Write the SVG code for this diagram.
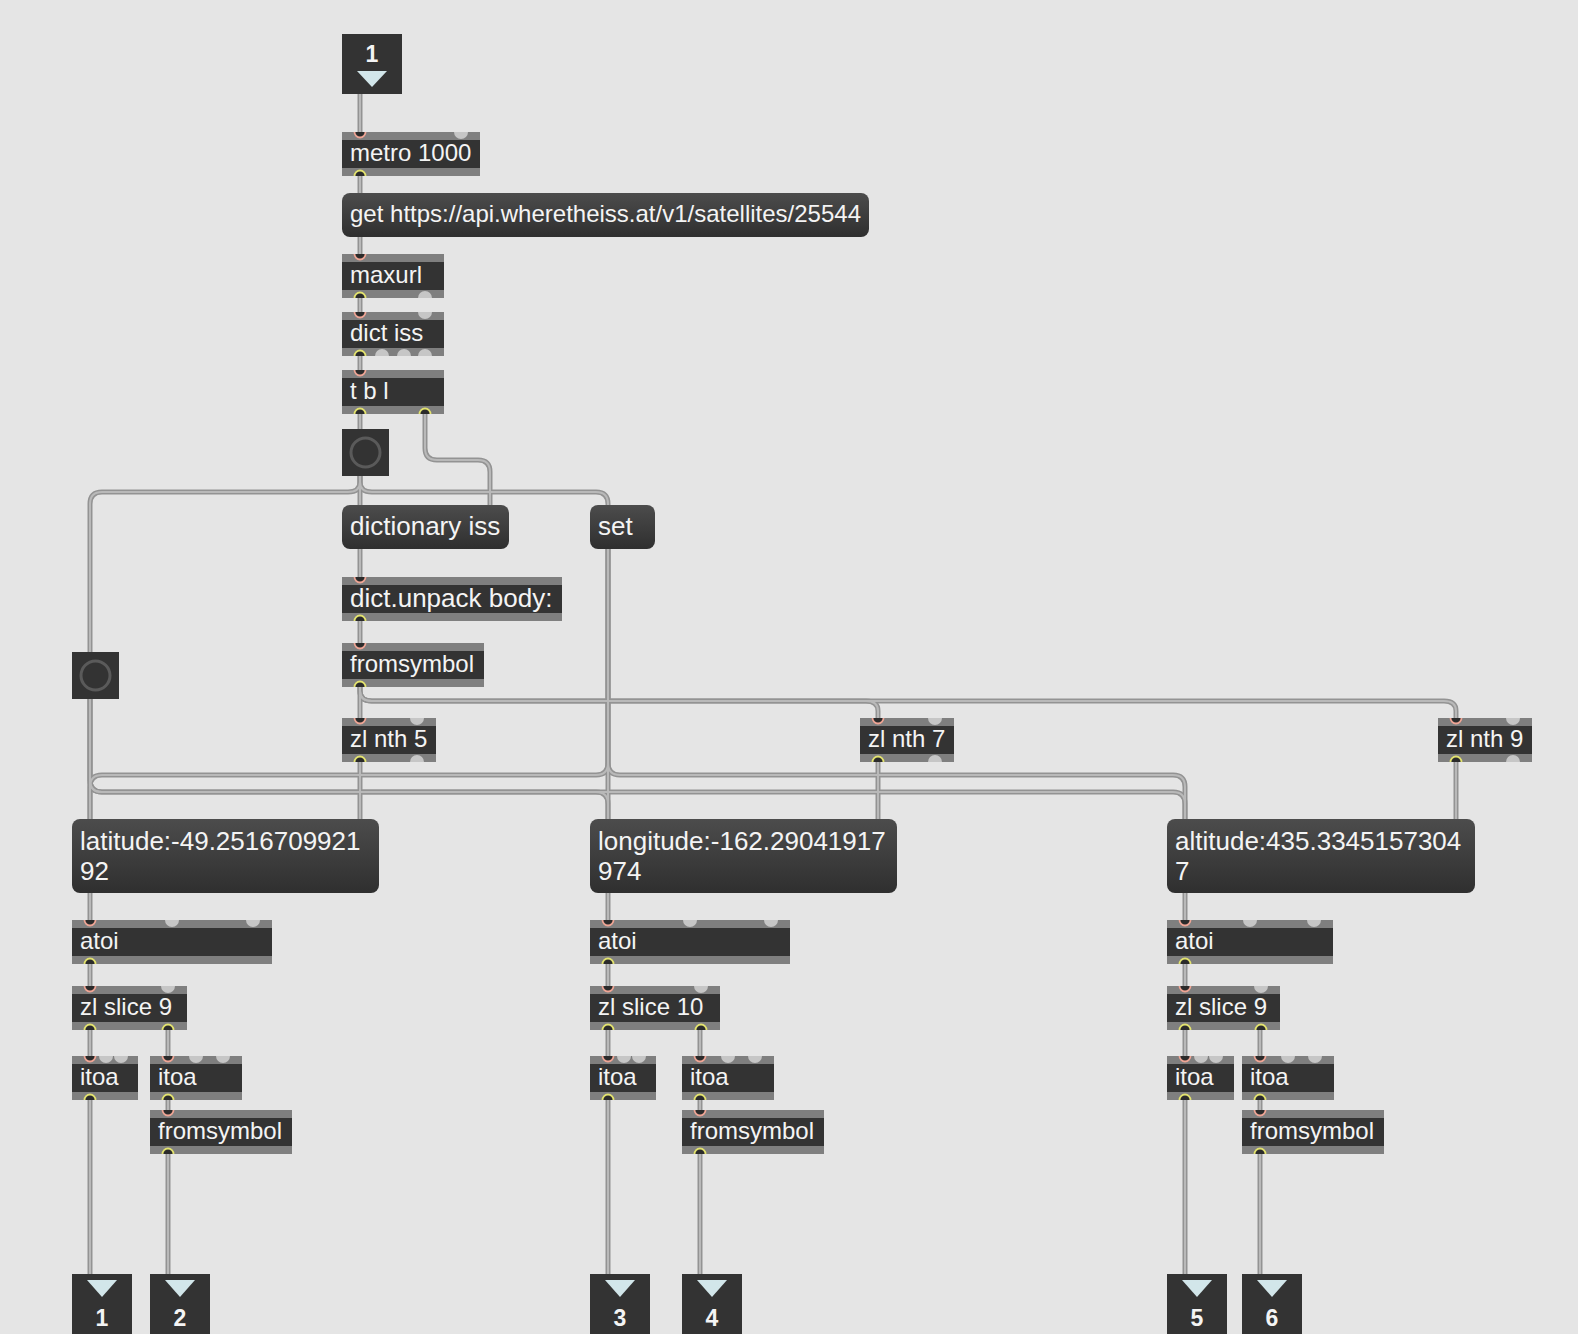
<svg xmlns="http://www.w3.org/2000/svg" width="1578" height="1334" viewBox="0 0 1578 1334">
<defs>
<style>
.t{font-family:"Liberation Sans",Arial,Helvetica,sans-serif;font-size:24px;fill:#f4f4f4}
.t26{font-size:26px}
.n{font-family:"Liberation Sans",Arial,Helvetica,sans-serif;font-weight:bold;fill:#f4f4f4;text-anchor:middle}
.ob{fill:#7f7f7f}
.od{fill:#333333}
.msg{fill:url(#mg)}
.dk{fill:#333333}
.tri{fill:#d2e6ea}
.ring{fill:none;stroke:#5a5a5a;stroke-width:3}
.c1{fill:none;stroke:#939393;stroke-width:5}
.c2{fill:none;stroke:#b9b9b9;stroke-width:2}
</style>
<linearGradient id="mg" x1="0" y1="0" x2="0" y2="1">
<stop offset="0" stop-color="#4c4c4c"/>
<stop offset="1" stop-color="#2f2f2f"/>
</linearGradient>
<path id="inC" d="M-5.5 0A5.5 5.5 0 0 0 5.5 0" fill="#2b2b2b" stroke="#efa595" stroke-width="1.8"/>
<path id="outC" d="M-5.5 0A5.5 5.5 0 0 1 5.5 0" fill="#2b2b2b" stroke="#e3e36f" stroke-width="1.8"/>
<path id="inU" d="M-7 0A7 7 0 0 0 7 0Z" fill="#c6c6c6"/>
<path id="outU" d="M-7 0A7 7 0 0 1 7 0Z" fill="#c6c6c6"/>
<g id="cords">
<path d="M360 94V132"/>
<path d="M360 176V193"/>
<path d="M360 236V254"/>
<path d="M360 298V312"/>
<path d="M360 356V370"/>
<path d="M360 414V429"/>
<path d="M425 414V448Q425 460 437 460H478Q490 460 490 472V505"/>
<path d="M360 476V505"/>
<path d="M360 476V482Q360 492 348 492H102Q90 492 90 504V652"/>
<path d="M360 476V482Q360 492 372 492H596Q608 492 608 504V505"/>
<path d="M360 549V577"/>
<path d="M360 621V643"/>
<path d="M360 687V718"/>
<path d="M360 687V691Q360 701 372 701H866Q878 701 878 711V718"/>
<path d="M360 687V691Q360 701 372 701H1444Q1456 701 1456 711V718"/>
<path d="M360 762V819"/>
<path d="M878 762V819"/>
<path d="M1456 762V819"/>
<path d="M608 549V819"/>
<path d="M608 549V763Q608 775 596 775H102Q90 775 90 787V819"/>
<path d="M608 549V763Q608 775 620 775H1173Q1185 775 1185 787V819"/>
<path d="M90 699V819"/>
<path d="M90 699V780Q90 792 102 792H596Q608 792 608 804V819"/>
<path d="M90 699V780Q90 792 102 792H1173Q1185 792 1185 804V819"/>
<path d="M90 893V920"/>
<path d="M90 964V986"/>
<path d="M90 1030V1056"/>
<path d="M168 1030V1056"/>
<path d="M90 1100V1274"/>
<path d="M168 1100V1110"/>
<path d="M168 1154V1274"/>
<path d="M608 893V920"/>
<path d="M608 964V986"/>
<path d="M608 1030V1056"/>
<path d="M700 1030V1056"/>
<path d="M608 1100V1274"/>
<path d="M700 1100V1110"/>
<path d="M700 1154V1274"/>
<path d="M1185 893V920"/>
<path d="M1185 964V986"/>
<path d="M1185 1030V1056"/>
<path d="M1260 1030V1056"/>
<path d="M1185 1100V1274"/>
<path d="M1260 1100V1110"/>
<path d="M1260 1154V1274"/>
</g>
</defs>
<rect width="1578" height="1334" fill="#e5e5e5"/>
<g id="connectors"><use href="#cords" class="c1"/><use href="#cords" class="c2"/></g>

<g id="inlet1"><rect class="dk" x="342" y="34" width="60" height="60"/><text class="n" x="372" y="62" font-size="23">1</text><polygon class="tri" points="357,71 387,71 372,87"/></g>

<g id="metro"><rect class="ob" x="342" y="132" width="138" height="44"/><rect class="od" x="342" y="140" width="138" height="28"/><use href="#inC" x="360" y="132"/><use href="#inU" x="461" y="132"/><use href="#outC" x="360" y="176"/><text class="t" x="350" y="161">metro 1000</text></g>

<g id="getmsg"><rect class="msg" x="342" y="193" width="527" height="44" rx="8"/><text class="t" x="350" y="222">get https://api.wheretheiss.at/v1/satellites/25544</text></g>

<g id="maxurl"><rect class="ob" x="342" y="254" width="102" height="44"/><rect class="od" x="342" y="262" width="102" height="28"/><use href="#inC" x="360" y="254"/><use href="#outC" x="360" y="298"/><use href="#outU" x="425" y="298"/><text class="t" x="350" y="283">maxurl</text></g>

<g id="dictiss"><rect class="ob" x="342" y="312" width="102" height="44"/><rect class="od" x="342" y="320" width="102" height="28"/><use href="#inC" x="360" y="312"/><use href="#inU" x="425" y="312"/><use href="#outC" x="360" y="356"/><use href="#outU" x="382" y="356"/><use href="#outU" x="404" y="356"/><use href="#outU" x="425" y="356"/><text class="t" x="350" y="341">dict iss</text></g>

<g id="tbl"><rect class="ob" x="342" y="370" width="102" height="44"/><rect class="od" x="342" y="378" width="102" height="28"/><use href="#inC" x="360" y="370"/><use href="#outC" x="360" y="414"/><use href="#outC" x="425" y="414"/><text class="t" x="350" y="399">t b l</text></g>

<g id="bang1"><rect class="dk" x="342" y="429" width="47" height="47"/><circle class="ring" cx="365.5" cy="452.5" r="14.5"/></g>

<g id="dictionarymsg"><rect class="msg" x="342" y="505" width="167" height="44" rx="8"/><text class="t t26" x="350" y="535">dictionary iss</text></g>

<g id="setmsg"><rect class="msg" x="590" y="505" width="65" height="44" rx="8"/><text class="t t26" x="598" y="535">set</text></g>

<g id="unpack"><rect class="ob" x="342" y="577" width="220" height="44"/><rect class="od" x="342" y="585" width="220" height="28"/><use href="#inC" x="360" y="577"/><use href="#outC" x="360" y="621"/><text class="t t26" x="350" y="607">dict.unpack body:</text></g>

<g id="fromsymbol0"><rect class="ob" x="342" y="643" width="142" height="44"/><rect class="od" x="342" y="651" width="142" height="28"/><use href="#inC" x="360" y="643"/><use href="#outC" x="360" y="687"/><text class="t" x="350" y="672">fromsymbol</text></g>

<g id="bang2"><rect class="dk" x="72" y="652" width="47" height="47"/><circle class="ring" cx="95.5" cy="675.5" r="14.5"/></g>

<g id="nth5"><rect class="ob" x="342" y="718" width="94" height="44"/><rect class="od" x="342" y="726" width="94" height="28"/><use href="#inC" x="360" y="718"/><use href="#inU" x="417" y="718"/><use href="#outC" x="360" y="762"/><use href="#outU" x="417" y="762"/><text class="t" x="350" y="747">zl nth 5</text></g>

<g id="nth7"><rect class="ob" x="860" y="718" width="94" height="44"/><rect class="od" x="860" y="726" width="94" height="28"/><use href="#inC" x="878" y="718"/><use href="#inU" x="935" y="718"/><use href="#outC" x="878" y="762"/><use href="#outU" x="935" y="762"/><text class="t" x="868" y="747">zl nth 7</text></g>

<g id="nth9"><rect class="ob" x="1438" y="718" width="94" height="44"/><rect class="od" x="1438" y="726" width="94" height="28"/><use href="#inC" x="1456" y="718"/><use href="#inU" x="1513" y="718"/><use href="#outC" x="1456" y="762"/><use href="#outU" x="1513" y="762"/><text class="t" x="1446" y="747">zl nth 9</text></g>

<g id="latmsg"><rect class="msg" x="72" y="819" width="307" height="74" rx="8"/><text class="t t26"><tspan x="80" y="850">latitude:-49.2516709921</tspan><tspan x="80" y="880">92</tspan></text></g>

<g id="lonmsg"><rect class="msg" x="590" y="819" width="307" height="74" rx="8"/><text class="t t26"><tspan x="598" y="850">longitude:-162.29041917</tspan><tspan x="598" y="880">974</tspan></text></g>

<g id="altmsg"><rect class="msg" x="1167" y="819" width="308" height="74" rx="8"/><text class="t t26"><tspan x="1175" y="850">altitude:435.3345157304</tspan><tspan x="1175" y="880">7</tspan></text></g>

<g id="atoi1"><rect class="ob" x="72" y="920" width="200" height="44"/><rect class="od" x="72" y="928" width="200" height="28"/><use href="#inC" x="90" y="920"/><use href="#inU" x="172" y="920"/><use href="#inU" x="253" y="920"/><use href="#outC" x="90" y="964"/><text class="t" x="80" y="949">atoi</text></g>
<g id="slice1"><rect class="ob" x="72" y="986" width="115" height="44"/><rect class="od" x="72" y="994" width="115" height="28"/><use href="#inC" x="90" y="986"/><use href="#inU" x="168" y="986"/><use href="#outC" x="90" y="1030"/><use href="#outC" x="168" y="1030"/><text class="t" x="80" y="1015">zl slice 9</text></g>
<g id="itoa1a"><rect class="ob" x="72" y="1056" width="66" height="44"/><rect class="od" x="72" y="1064" width="66" height="28"/><use href="#inC" x="90" y="1056"/><use href="#inU" x="106" y="1056"/><use href="#inU" x="121" y="1056"/><use href="#outC" x="90" y="1100"/><text class="t" x="80" y="1085">itoa</text></g>
<g id="itoa1b"><rect class="ob" x="150" y="1056" width="92" height="44"/><rect class="od" x="150" y="1064" width="92" height="28"/><use href="#inC" x="168" y="1056"/><use href="#inU" x="196" y="1056"/><use href="#inU" x="223" y="1056"/><use href="#outC" x="168" y="1100"/><text class="t" x="158" y="1085">itoa</text></g>
<g id="fromsymbol1"><rect class="ob" x="150" y="1110" width="142" height="44"/><rect class="od" x="150" y="1118" width="142" height="28"/><use href="#inC" x="168" y="1110"/><use href="#outC" x="168" y="1154"/><text class="t" x="158" y="1139">fromsymbol</text></g>

<g id="atoi2"><rect class="ob" x="590" y="920" width="200" height="44"/><rect class="od" x="590" y="928" width="200" height="28"/><use href="#inC" x="608" y="920"/><use href="#inU" x="690" y="920"/><use href="#inU" x="771" y="920"/><use href="#outC" x="608" y="964"/><text class="t" x="598" y="949">atoi</text></g>
<g id="slice2"><rect class="ob" x="590" y="986" width="130" height="44"/><rect class="od" x="590" y="994" width="130" height="28"/><use href="#inC" x="608" y="986"/><use href="#inU" x="701" y="986"/><use href="#outC" x="608" y="1030"/><use href="#outC" x="701" y="1030"/><text class="t" x="598" y="1015">zl slice 10</text></g>
<g id="itoa2a"><rect class="ob" x="590" y="1056" width="66" height="44"/><rect class="od" x="590" y="1064" width="66" height="28"/><use href="#inC" x="608" y="1056"/><use href="#inU" x="624" y="1056"/><use href="#inU" x="639" y="1056"/><use href="#outC" x="608" y="1100"/><text class="t" x="598" y="1085">itoa</text></g>
<g id="itoa2b"><rect class="ob" x="682" y="1056" width="92" height="44"/><rect class="od" x="682" y="1064" width="92" height="28"/><use href="#inC" x="700" y="1056"/><use href="#inU" x="728" y="1056"/><use href="#inU" x="755" y="1056"/><use href="#outC" x="700" y="1100"/><text class="t" x="690" y="1085">itoa</text></g>
<g id="fromsymbol2"><rect class="ob" x="682" y="1110" width="142" height="44"/><rect class="od" x="682" y="1118" width="142" height="28"/><use href="#inC" x="700" y="1110"/><use href="#outC" x="700" y="1154"/><text class="t" x="690" y="1139">fromsymbol</text></g>

<g id="atoi3"><rect class="ob" x="1167" y="920" width="166" height="44"/><rect class="od" x="1167" y="928" width="166" height="28"/><use href="#inC" x="1185" y="920"/><use href="#inU" x="1250" y="920"/><use href="#inU" x="1314" y="920"/><use href="#outC" x="1185" y="964"/><text class="t" x="1175" y="949">atoi</text></g>
<g id="slice3"><rect class="ob" x="1167" y="986" width="113" height="44"/><rect class="od" x="1167" y="994" width="113" height="28"/><use href="#inC" x="1185" y="986"/><use href="#inU" x="1261" y="986"/><use href="#outC" x="1185" y="1030"/><use href="#outC" x="1261" y="1030"/><text class="t" x="1175" y="1015">zl slice 9</text></g>
<g id="itoa3a"><rect class="ob" x="1167" y="1056" width="67" height="44"/><rect class="od" x="1167" y="1064" width="67" height="28"/><use href="#inC" x="1185" y="1056"/><use href="#inU" x="1201" y="1056"/><use href="#inU" x="1216" y="1056"/><use href="#outC" x="1185" y="1100"/><text class="t" x="1175" y="1085">itoa</text></g>
<g id="itoa3b"><rect class="ob" x="1242" y="1056" width="92" height="44"/><rect class="od" x="1242" y="1064" width="92" height="28"/><use href="#inC" x="1260" y="1056"/><use href="#inU" x="1288" y="1056"/><use href="#inU" x="1315" y="1056"/><use href="#outC" x="1260" y="1100"/><text class="t" x="1250" y="1085">itoa</text></g>
<g id="fromsymbol3"><rect class="ob" x="1242" y="1110" width="142" height="44"/><rect class="od" x="1242" y="1118" width="142" height="28"/><use href="#inC" x="1260" y="1110"/><use href="#outC" x="1260" y="1154"/><text class="t" x="1250" y="1139">fromsymbol</text></g>

<g id="outlet1"><rect class="dk" x="72" y="1274" width="60" height="62"/><polygon class="tri" points="87,1280 117,1280 102,1297"/><text class="n" x="102" y="1326" font-size="23">1</text></g>
<g id="outlet2"><rect class="dk" x="150" y="1274" width="60" height="62"/><polygon class="tri" points="165,1280 195,1280 180,1297"/><text class="n" x="180" y="1326" font-size="23">2</text></g>
<g id="outlet3"><rect class="dk" x="590" y="1274" width="60" height="62"/><polygon class="tri" points="605,1280 635,1280 620,1297"/><text class="n" x="620" y="1326" font-size="23">3</text></g>
<g id="outlet4"><rect class="dk" x="682" y="1274" width="60" height="62"/><polygon class="tri" points="697,1280 727,1280 712,1297"/><text class="n" x="712" y="1326" font-size="23">4</text></g>
<g id="outlet5"><rect class="dk" x="1167" y="1274" width="60" height="62"/><polygon class="tri" points="1182,1280 1212,1280 1197,1297"/><text class="n" x="1197" y="1326" font-size="23">5</text></g>
<g id="outlet6"><rect class="dk" x="1242" y="1274" width="60" height="62"/><polygon class="tri" points="1257,1280 1287,1280 1272,1297"/><text class="n" x="1272" y="1326" font-size="23">6</text></g>
</svg>
